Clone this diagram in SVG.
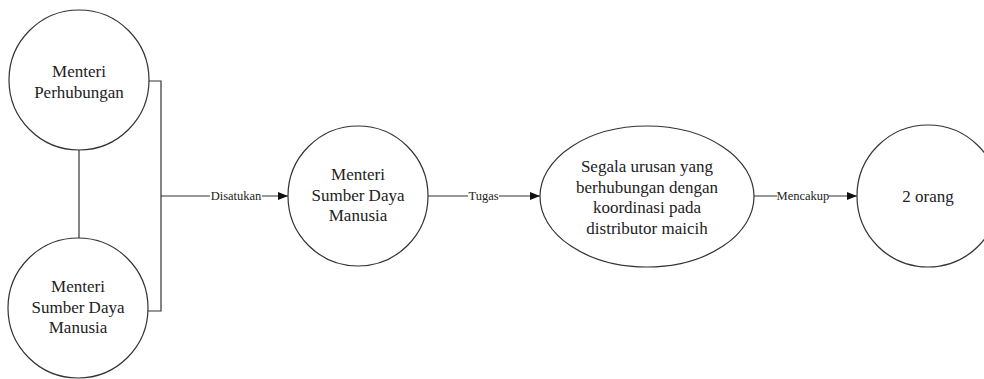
<svg xmlns="http://www.w3.org/2000/svg" width="984" height="379" viewBox="0 0 984 379">
  <style>
    .node { fill: #ffffff; stroke: #333333; stroke-width: 1.2; }
    text { font-family: 'Liberation Serif', 'DejaVu Serif', 'Noto Serif', serif; fill: #222222; text-anchor: middle; }
    .txt { font-size: 17px; }
    .edge { fill: none; stroke: #333333; stroke-width: 1.2; }
    .lbl { font-size: 12.5px; }
    .lblbg { fill: #ffffff; }
  </style>
  <defs>
    <marker id="arrow" markerWidth="10" markerHeight="8" refX="10" refY="4" orient="auto" markerUnits="userSpaceOnUse">
      <path d="M0,0 L10,4 L0,8 Z" fill="#111111"/>
    </marker>
  </defs>
  <rect width="984" height="379" fill="#ffffff"/>

  <g id="connectors">
    <!-- link between the two ministers -->
    <line class="edge" x1="79" y1="150" x2="79" y2="240"/>
    <!-- bracket joining both ministers -->
    <polyline class="edge" points="149,81 161,81 161,311 148,311"/>
    <line class="edge" x1="161" y1="196" x2="288" y2="196" marker-end="url(#arrow)"/>
    <rect class="lblbg" x="210" y="189" width="52" height="14"/>
    <text class="lbl" x="236" y="200" font-family="Liberation Serif, serif">Disatukan</text>

    <line class="edge" x1="428" y1="196" x2="540" y2="196" marker-end="url(#arrow)"/>
    <rect class="lblbg" x="468" y="189" width="31" height="14"/>
    <text class="lbl" x="483.5" y="200" font-family="Liberation Serif, serif">Tugas</text>

    <line class="edge" x1="754" y1="196" x2="857" y2="196" marker-end="url(#arrow)"/>
    <rect class="lblbg" x="777" y="189" width="52" height="14"/>
    <text class="lbl" x="803" y="200" font-family="Liberation Serif, serif">Mencakup</text>
  </g>

  <g id="menteri-perhubungan" font-family="Liberation Serif, serif">
    <circle class="node" cx="79" cy="80" r="70"/>
    <text class="txt" x="79" y="77">Menteri</text>
    <text class="txt" x="79" y="97.5">Perhubungan</text>
  </g>

  <g id="menteri-sdm-1">
    <circle class="node" cx="78" cy="308" r="70"/>
    <text class="txt" x="78" y="292">Menteri</text>
    <text class="txt" x="78" y="312.5">Sumber Daya</text>
    <text class="txt" x="78" y="333">Manusia</text>
  </g>

  <g id="menteri-sdm-2">
    <circle class="node" cx="358" cy="196" r="70"/>
    <text class="txt" x="358" y="180">Menteri</text>
    <text class="txt" x="358" y="200.5">Sumber Daya</text>
    <text class="txt" x="358" y="221">Manusia</text>
  </g>

  <g id="tugas">
    <ellipse class="node" cx="647" cy="196.5" rx="107" ry="70.5"/>
    <text class="txt" x="647" y="172">Segala urusan yang</text>
    <text class="txt" x="647" y="192.5">berhubungan dengan</text>
    <text class="txt" x="647" y="213">koordinasi pada</text>
    <text class="txt" x="647" y="233.5">distributor maicih</text>
  </g>

  <g id="dua-orang">
    <circle class="node" cx="928" cy="196" r="71"/>
    <text class="txt" x="928" y="202">2 orang</text>
  </g>
</svg>
